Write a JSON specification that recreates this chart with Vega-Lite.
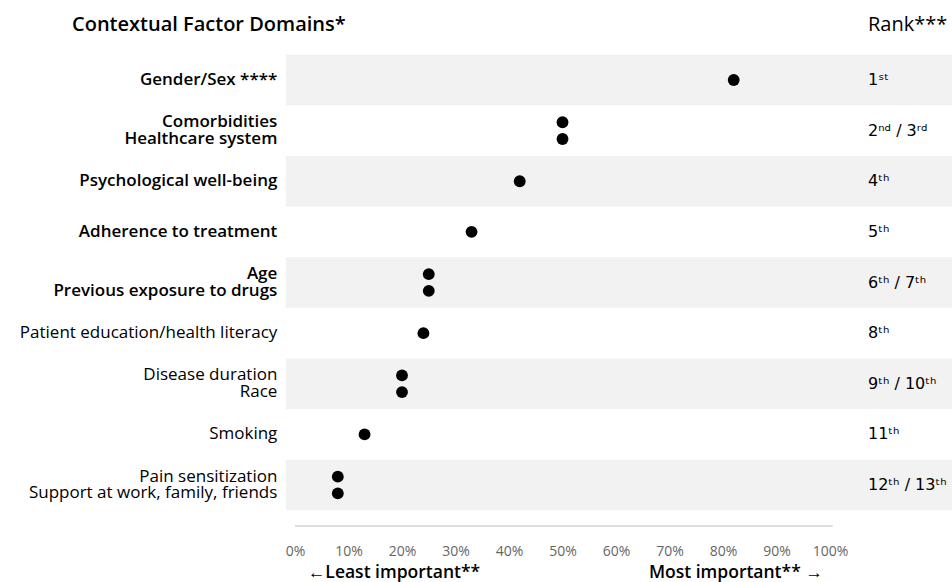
{
  "$schema": "https://vega.github.io/schema/vega-lite/v6.json",
  "width": 952,
  "height": 582,
  "autosize": "none",
  "padding": 0,
  "background": "white",
  "config": {"view": {"stroke": null}, "font": "Open Sans"},
  "datasets": {
    "factors": [
      {"label": "Gender/Sex ****", "bold": true, "y": 1.0, "value": 0.82},
      {"label": "Comorbidities", "bold": true, "y": 1.835, "value": 0.50},
      {"label": "Healthcare system", "bold": true, "y": 2.165, "value": 0.50},
      {"label": "Psychological well-being", "bold": true, "y": 3.0, "value": 0.42},
      {"label": "Adherence to treatment", "bold": true, "y": 4.0, "value": 0.33},
      {"label": "Age", "bold": true, "y": 4.835, "value": 0.25},
      {"label": "Previous exposure to drugs", "bold": true, "y": 5.165, "value": 0.25},
      {"label": "Patient education/health literacy", "bold": false, "y": 6.0, "value": 0.24},
      {"label": "Disease duration", "bold": false, "y": 6.835, "value": 0.20},
      {"label": "Race", "bold": false, "y": 7.165, "value": 0.20},
      {"label": "Smoking", "bold": false, "y": 8.0, "value": 0.13},
      {"label": "Pain sensitization", "bold": false, "y": 8.835, "value": 0.08},
      {"label": "Support at work, family, friends", "bold": false, "y": 9.165, "value": 0.08}
    ],
    "ranks": [
      {"row": 1, "rank": "1ˢᵗ"},
      {"row": 2, "rank": "2ⁿᵈ / 3ʳᵈ"},
      {"row": 3, "rank": "4ᵗʰ"},
      {"row": 4, "rank": "5ᵗʰ"},
      {"row": 5, "rank": "6ᵗʰ / 7ᵗʰ"},
      {"row": 6, "rank": "8ᵗʰ"},
      {"row": 7, "rank": "9ᵗʰ / 10ᵗʰ"},
      {"row": 8, "rank": "11ᵗʰ"},
      {"row": 9, "rank": "12ᵗʰ / 13ᵗʰ"}
    ],
    "bands": [
      {"lo": 0.5, "hi": 1.5},
      {"lo": 2.5, "hi": 3.5},
      {"lo": 4.5, "hi": 5.5},
      {"lo": 6.5, "hi": 7.5},
      {"lo": 8.5, "hi": 9.5}
    ]
  },
  "layer": [
    {
      "data": {"name": "bands"},
      "mark": {"type": "rect", "color": "#f2f2f2"},
      "encoding": {
        "x": {"datum": -0.017, "type": "quantitative",
          "scale": {"domain": [-0.5514, 1.228], "nice": false, "zero": false},
          "axis": {"values": [0, 0.1, 0.2, 0.3, 0.4, 0.5, 0.6, 0.7, 0.8, 0.9, 1.0], "format": ".0%", "domain": false, "ticks": false, "grid": false, "title": null, "offset": -38, "labelPadding": 0, "labelFontSize": 14, "labelColor": "#666666", "labelFont": "Open Sans"}},
        "x2": {"datum": 1.3},
        "y": {"field": "lo", "type": "quantitative",
          "scale": {"domain": [-0.5802, 10.916], "nice": false, "zero": false, "reverse": true},
          "axis": null},
        "y2": {"field": "hi"}
      }
    },
    {
      "data": {"values": [{}]},
      "mark": {"type": "rule", "color": "#dddddd", "strokeWidth": 2},
      "encoding": {
        "x": {"datum": 0, "type": "quantitative"},
        "x2": {"datum": 1.005},
        "y": {"datum": 9.81, "type": "quantitative"}
      }
    },
    {
      "data": {"name": "factors"},
      "mark": {"type": "circle", "color": "black", "opacity": 1, "size": 140},
      "encoding": {
        "x": {"field": "value", "type": "quantitative"},
        "y": {"field": "y", "type": "quantitative"}
      }
    },
    {
      "data": {"name": "factors"},
      "transform": [{"filter": "datum.bold"}],
      "mark": {"type": "text", "align": "right", "baseline": "middle", "fontSize": 17, "fontWeight": 600, "color": "black"},
      "encoding": {
        "x": {"datum": -0.033, "type": "quantitative"},
        "y": {"field": "y", "type": "quantitative"},
        "text": {"field": "label"}
      }
    },
    {
      "data": {"name": "factors"},
      "transform": [{"filter": "!datum.bold"}],
      "mark": {"type": "text", "align": "right", "baseline": "middle", "fontSize": 17, "color": "black"},
      "encoding": {
        "x": {"datum": -0.033, "type": "quantitative"},
        "y": {"field": "y", "type": "quantitative"},
        "text": {"field": "label"}
      }
    },
    {
      "data": {"name": "ranks"},
      "mark": {"type": "text", "align": "left", "baseline": "middle", "fontSize": 16, "font": "DejaVu Sans", "color": "black"},
      "encoding": {
        "x": {"datum": 1.071, "type": "quantitative"},
        "y": {"field": "row", "type": "quantitative"},
        "text": {"field": "rank"}
      }
    },
    {
      "data": {"values": [{}]},
      "mark": {"type": "text", "align": "center", "baseline": "middle", "fontSize": 20, "fontWeight": 600, "color": "black"},
      "encoding": {
        "x": {"datum": -0.161, "type": "quantitative"},
        "y": {"datum": -0.09, "type": "quantitative"},
        "text": {"value": "Contextual Factor Domains*"}
      }
    },
    {
      "data": {"values": [{}]},
      "mark": {"type": "text", "align": "left", "baseline": "middle", "fontSize": 20, "color": "black"},
      "encoding": {
        "x": {"datum": 1.071, "type": "quantitative"},
        "y": {"datum": -0.09, "type": "quantitative"},
        "text": {"value": "Rank***"}
      }
    },
    {
      "data": {"values": [{}]},
      "mark": {"type": "text", "align": "center", "baseline": "middle", "fontSize": 17.5, "fontWeight": 600, "color": "black"},
      "encoding": {
        "x": {"datum": 0.185, "type": "quantitative"},
        "y": {"datum": 10.74, "type": "quantitative"},
        "text": {"value": "←Least important**"}
      }
    },
    {
      "data": {"values": [{}]},
      "mark": {"type": "text", "align": "center", "baseline": "middle", "fontSize": 17.5, "fontWeight": 600, "color": "black"},
      "encoding": {
        "x": {"datum": 0.824, "type": "quantitative"},
        "y": {"datum": 10.74, "type": "quantitative"},
        "text": {"value": "Most important** →"}
      }
    }
  ]
}
